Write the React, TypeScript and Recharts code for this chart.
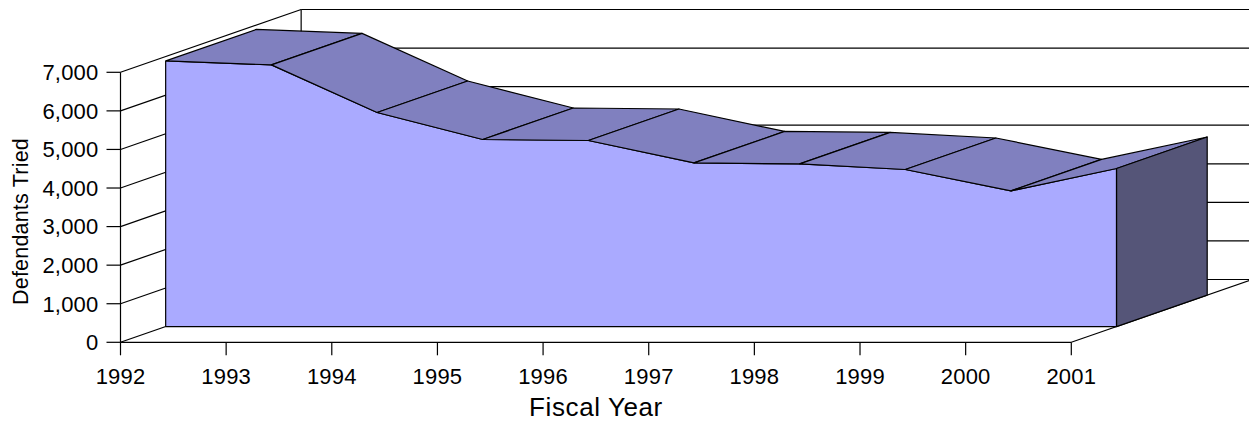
import React from "react";
import { ComposedChart, Area, Line, XAxis, YAxis, ReferenceLine } from "recharts";

const years = [1992, 1993, 1994, 1995, 1996, 1997, 1998, 1999, 2000, 2001];
const defendants = [6889, 6785, 5551, 4851, 4825, 4244, 4218, 4073, 3518, 4099];
const yTicks = [0, 1000, 2000, 3000, 4000, 5000, 6000, 7000];

const rows = years.map((year, i) => ({ year, defendants: defendants[i] }));

// 3D projection: the whole depth of the box, in data units
const DEPTH_YEARS = 1.71;
const DEPTH_VALUE = 1628;
// pixel offsets of the front and back faces of the area slab
const FRONT = { x: 45.3, y: -15.7 };
const BACK = { x: 135.9, y: -47.2 };
const FRONT_YEARS = 0.4275;
const FRONT_VALUE = 407;

const FONT = "'Liberation Sans', Arial, sans-serif";
const INK = "#000";
const LINE_W = 1.2;

const quad = (pts: number[][]) => pts.map((p) => p.join(",")).join(" ");

function SlabDot(props: any) {
  const { cx, cy, index, points } = props;
  const out: React.ReactNode[] = [];
  const next = points?.[index + 1];
  if (next) {
    out.push(
      <polygon
        key="top"
        points={quad([
          [cx + FRONT.x, cy + FRONT.y],
          [next.x + FRONT.x, next.y + FRONT.y],
          [next.x + BACK.x, next.y + BACK.y],
          [cx + BACK.x, cy + BACK.y],
        ])}
        fill="#8080BF"
        stroke={INK}
        strokeWidth={LINE_W}
        strokeLinejoin="round"
      />
    );
  } else if (points) {
    const a = points[0];
    const b = points[2];
    const k = (b.y - a.y) / (defendants[0] - defendants[2]);
    const base = cy + defendants[index] * k;
    out.push(
      <polygon
        key="side"
        points={quad([
          [cx + FRONT.x, cy + FRONT.y],
          [cx + BACK.x, cy + BACK.y],
          [cx + BACK.x, base + BACK.y],
          [cx + FRONT.x, base + FRONT.y],
        ])}
        fill="#555578"
        stroke={INK}
        strokeWidth={LINE_W}
        strokeLinejoin="round"
      />
    );
  }
  return <g key={index}>{out}</g>;
}

const seg = (x1: number, y1: number, x2: number, y2: number) => [
  { x: x1, y: y1 },
  { x: x2, y: y2 },
];

const X0 = years[0];
const X1 = years[years.length - 1];
const YMAX = yTicks[yTicks.length - 1];
const tickStyle = { fill: "#000", fontSize: 22, fontFamily: FONT, letterSpacing: 0.2 };

export default function App() {
  return (
    <div style={{ position: "absolute", left: 0, top: 0, width: 1249, height: 421 }}>
      <style>{`.slab-front{transform:translate(${FRONT.x}px,${FRONT.y}px)}`}</style>
      <ComposedChart
        width={1249}
        height={421}
        data={rows}
        margin={{ top: 72.3, right: 177.7, bottom: 0, left: 0 }}
        style={{ fontFamily: FONT }}
      >
        <XAxis
          dataKey="year"
          type="number"
          domain={[X0, X1]}
          ticks={years}
          interval={0}
          height={78.7}
          tickSize={13}
          tickMargin={13}
          stroke={INK}
          strokeWidth={LINE_W}
          tick={tickStyle}
          tickFormatter={(v: number) => String(v)}
        />
        <YAxis
          type="number"
          domain={[0, YMAX]}
          ticks={yTicks}
          interval={0}
          width={120.5}
          tickSize={14}
          tickMargin={8}
          stroke={INK}
          strokeWidth={LINE_W}
          tick={tickStyle}
          tickFormatter={(v: number) => v.toLocaleString("en-US")}
        />
        <text x={596} y={415.5} textAnchor="middle" fontSize={26} letterSpacing={0.6} fontFamily={FONT} fill="#000">
          Fiscal Year
        </text>
        <text
          x={0}
          y={0}
          transform="translate(28,221.5) rotate(-90)"
          textAnchor="middle"
          fontSize={21.5}
          letterSpacing={0.2}
          fontFamily={FONT}
          fill="#000"
        >
          Defendants Tried
        </text>

        {yTicks.map((t) => (
          <ReferenceLine
            key={`wall-${t}`}
            ifOverflow="visible"
            stroke={INK}
            strokeWidth={LINE_W}
            zIndex={10}
            segment={seg(X0, t, X0 + DEPTH_YEARS, t + DEPTH_VALUE)}
          />
        ))}
        {yTicks.map((t) => (
          <ReferenceLine
            key={`back-${t}`}
            ifOverflow="visible"
            stroke={INK}
            strokeWidth={LINE_W}
            zIndex={10}
            segment={seg(X0 + DEPTH_YEARS, t + DEPTH_VALUE, X1 + 2, t + DEPTH_VALUE)}
          />
        ))}
        <ReferenceLine
          ifOverflow="visible"
          stroke={INK}
          strokeWidth={LINE_W}
          zIndex={10}
          segment={seg(X0 + DEPTH_YEARS, DEPTH_VALUE, X0 + DEPTH_YEARS, YMAX + DEPTH_VALUE)}
        />
        <ReferenceLine
          ifOverflow="visible"
          stroke={INK}
          strokeWidth={LINE_W}
          zIndex={10}
          segment={seg(X1, 0, X1 + DEPTH_YEARS, DEPTH_VALUE)}
        />

        <Line
          dataKey="defendants"
          stroke="none"
          zIndex={20}
          isAnimationActive={false}
          legendType="none"
          dot={(p: any) => <SlabDot key={p.index} {...p} />}
        />
        <Area
          className="slab-front"
          dataKey="defendants"
          fill="#AAAAFF"
          fillOpacity={1}
          stroke={INK}
          strokeWidth={LINE_W}
          zIndex={30}
          isAnimationActive={false}
          dot={false}
          activeDot={false}
        />
        <ReferenceLine
          ifOverflow="visible"
          stroke={INK}
          strokeWidth={LINE_W}
          zIndex={40}
          segment={seg(X0 + FRONT_YEARS, FRONT_VALUE, X1 + FRONT_YEARS, FRONT_VALUE)}
        />
        <ReferenceLine
          ifOverflow="visible"
          stroke={INK}
          strokeWidth={LINE_W}
          zIndex={40}
          segment={seg(X0 + FRONT_YEARS, FRONT_VALUE, X0 + FRONT_YEARS, defendants[0] + FRONT_VALUE)}
        />
        <ReferenceLine
          ifOverflow="visible"
          stroke={INK}
          strokeWidth={LINE_W}
          zIndex={40}
          segment={seg(X1 + FRONT_YEARS, FRONT_VALUE, X1 + FRONT_YEARS, defendants[defendants.length - 1] + FRONT_VALUE)}
        />
      </ComposedChart>
    </div>
  );
}
